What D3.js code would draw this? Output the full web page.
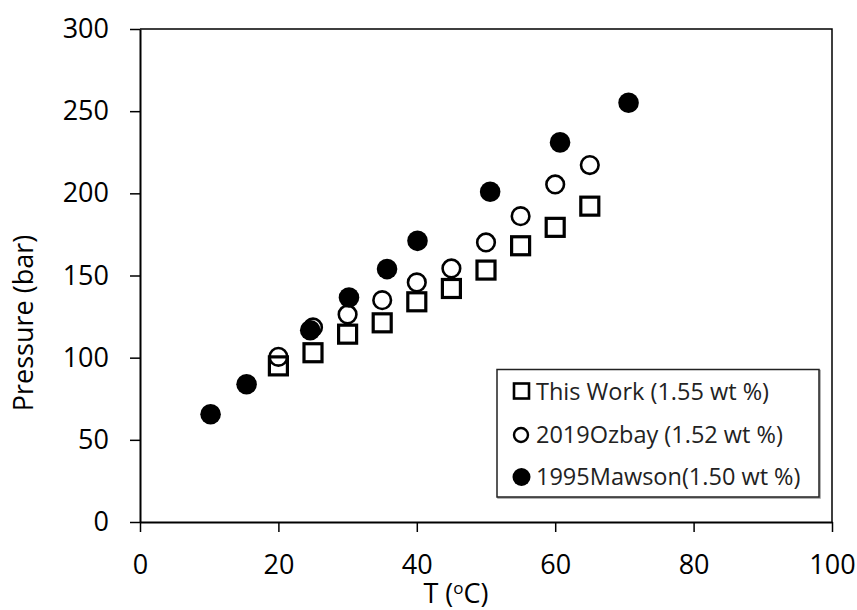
<!DOCTYPE html>
<html>
<head>
<meta charset="utf-8">
<script src="https://cdn.jsdelivr.net/npm/d3@7"></script>
<style>
  html, body { margin: 0; padding: 0; background: #fff; }
  svg { display: block; font-family: "Open Sans", sans-serif; }
</style>
</head>
<body>
<svg id="chart" width="857" height="610"></svg>
<script>
// data
const temps = [20, 25, 30, 35, 40, 45, 50, 55, 60, 65];
const thisWork = [95, 103, 114.3, 121.2, 134, 142.1, 153.3, 168.1, 179.3, 192.2];
const ozbay = [100.5, 118.4, 126.3, 135, 145.8, 154.3, 170.1, 186.1, 205.4, 217.2];
const mawsonT = [10.2, 15.4, 24.6, 30.2, 35.7, 40.1, 50.6, 60.7, 70.6];
const mawsonP = [65.6, 83.8, 116.7, 136.6, 153.9, 171.1, 201, 231, 255.1];

const xTicks = [0, 20, 40, 60, 80, 100];
const yTicks = [0, 50, 100, 150, 200, 250, 300];
const legendLabels = ["This Work (1.55 wt %)", "2019Ozbay (1.52 wt %)", "1995Mawson(1.50 wt %)"];

const svg = d3.select("#chart");
const width = 857, height = 610;
const margin = { top: 29, right: 25, bottom: 88, left: 140 };

const x = d3.scaleLinear().domain([0, 100]).range([margin.left, width - margin.right]);
const y = d3.scaleLinear().domain([0, 300]).range([height - margin.bottom, margin.top]);

// frame (top + right)
svg.append("path")
  .attr("d", `M${x(0)},${y(300)}H${x(100)}V${y(0)}`)
  .attr("fill", "none")
  .attr("stroke", "#000")
  .attr("stroke-width", 1.5);

const xAxis = d3.axisBottom(x).tickValues(xTicks).tickSize(10).tickPadding(23).tickSizeOuter(0);
const yAxis = d3.axisLeft(y).tickValues(yTicks).tickSize(10).tickPadding(21).tickSizeOuter(0);

const gx = svg.append("g")
  .attr("transform", `translate(0,${y(0)})`)
  .call(xAxis);
const gy = svg.append("g")
  .attr("transform", `translate(${x(0)},0)`)
  .call(yAxis);

[gx, gy].forEach((g) => {
  g.select(".domain").attr("stroke-width", 2);
  g.selectAll(".tick line").attr("stroke-width", 1.5);
  g.selectAll("text")
    .attr("font-family", "'Open Sans', sans-serif")
    .attr("font-size", 27)
    .attr("fill", "#000");
});

// axis titles
svg.append("text")
  .attr("transform", `translate(33,323) rotate(-90)`)
  .attr("text-anchor", "middle")
  .attr("font-size", 27)
  .text("Pressure (bar)");

const xt = svg.append("text")
  .attr("x", 456)
  .attr("y", 603)
  .attr("text-anchor", "middle")
  .attr("font-size", 27);
xt.append("tspan").text("T (");
xt.append("tspan").attr("font-size", 17).attr("dy", -9).text("o");
xt.append("tspan").attr("dy", 9).text("C)");

// markers: squares, then open circles, then filled circles
const sq = 18;
svg.append("g").selectAll("rect")
  .data(temps)
  .join("rect")
  .attr("x", (d) => x(d) - sq / 2)
  .attr("y", (d, i) => y(thisWork[i]) - sq / 2)
  .attr("width", sq)
  .attr("height", sq)
  .attr("fill", "none")
  .attr("stroke", "#000")
  .attr("stroke-width", 3.2);

svg.append("g").selectAll("circle")
  .data(temps)
  .join("circle")
  .attr("cx", (d) => x(d))
  .attr("cy", (d, i) => y(ozbay[i]))
  .attr("r", 8.8)
  .attr("fill", "none")
  .attr("stroke", "#000")
  .attr("stroke-width", 2.6);

svg.append("g").selectAll("circle")
  .data(mawsonT)
  .join("circle")
  .attr("cx", (d) => x(d))
  .attr("cy", (d, i) => y(mawsonP[i]))
  .attr("r", 10.3)
  .attr("fill", "#000");

// legend
const lg = svg.append("g");
lg.append("rect")
  .attr("x", 498).attr("y", 370.5)
  .attr("width", 322).attr("height", 127.5)
  .attr("fill", "none")
  .attr("stroke", "#999")
  .attr("stroke-width", 1.5);
lg.append("rect")
  .attr("x", 497).attr("y", 369.5)
  .attr("width", 322).attr("height", 127.5)
  .attr("fill", "#fff")
  .attr("stroke", "#222")
  .attr("stroke-width", 1.5);

const rowY = [391, 434, 476];
lg.append("rect")
  .attr("x", 514).attr("y", rowY[0] - 7.5)
  .attr("width", 15).attr("height", 15)
  .attr("fill", "none").attr("stroke", "#000").attr("stroke-width", 2.6);
lg.append("circle")
  .attr("cx", 521).attr("cy", rowY[1] + 1)
  .attr("r", 7).attr("fill", "none").attr("stroke", "#000").attr("stroke-width", 2.4);
lg.append("circle")
  .attr("cx", 521.5).attr("cy", rowY[2] + 1)
  .attr("r", 9).attr("fill", "#000");

lg.selectAll("text.lab")
  .data(legendLabels)
  .join("text")
  .attr("class", "lab")
  .attr("x", 536)
  .attr("y", (d, i) => rowY[i] + 8.5)
  .attr("font-size", 23.5)
  .attr("fill", "#222")
  .text((d) => d);
</script>
</body>
</html>
